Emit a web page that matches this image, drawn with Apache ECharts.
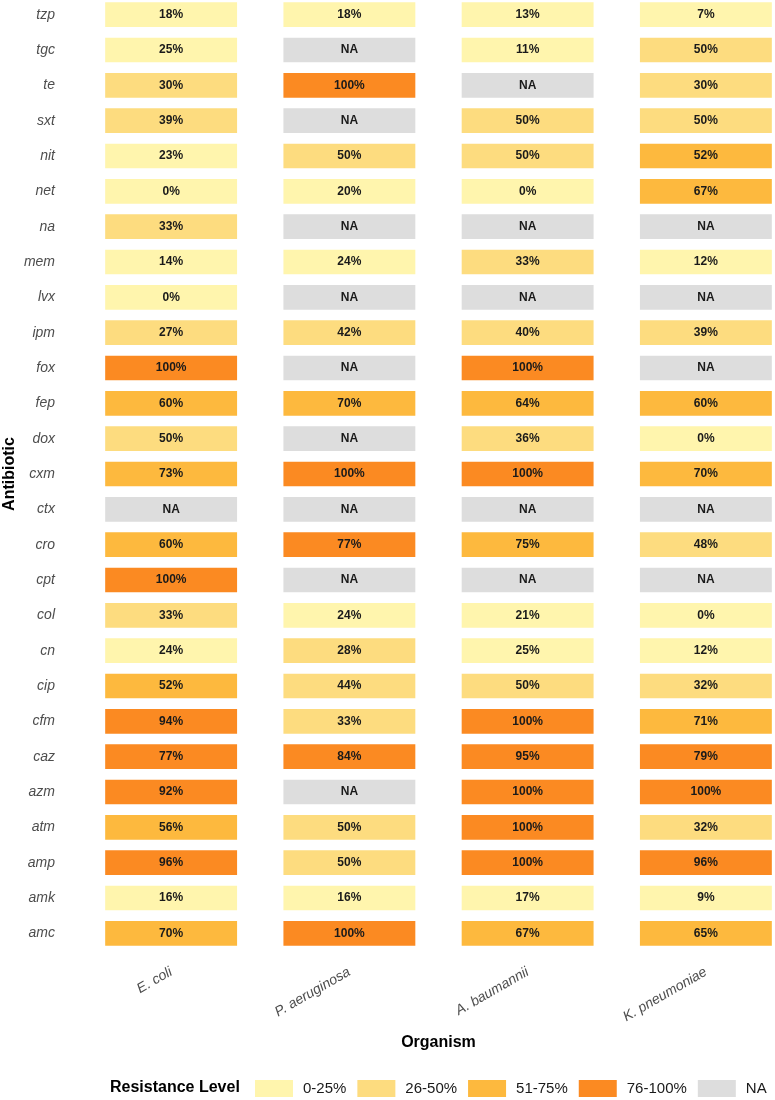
<!DOCTYPE html>
<html>
<head>
<meta charset="utf-8">
<title>Resistance heatmap</title>
<script src="https://cdn.jsdelivr.net/npm/echarts@6/dist/echarts.min.js"></script>
<style>
  html, body { margin: 0; padding: 0; background: #fff; }
  #main { width: 775px; height: 1100px; }
</style>
</head>
<body>
<div id="main"></div>
<script>
// organisms (x axis) and antibiotics (y axis, bottom to top)
var organisms = ['E. coli', 'P. aeruginosa', 'A. baumannii', 'K. pneumoniae'];
var antibiotics = ['amc', 'amk', 'amp', 'atm', 'azm', 'caz', 'cfm', 'cip', 'cn', 'col',
  'cpt', 'cro', 'ctx', 'cxm', 'dox', 'fep', 'fox', 'ipm', 'lvx', 'mem',
  'na', 'net', 'nit', 'sxt', 'te', 'tgc', 'tzp'];

// resistance % per organism, same order as antibiotics; null = NA
var ecoli = [70, 16, 96, 56, 92, 77, 94, 52, 24, 33,
  100, 60, null, 73, 50, 60, 100, 27, 0, 14,
  33, 0, 23, 39, 30, 25, 18];
var paeruginosa = [100, 16, 50, 50, null, 84, 33, 44, 28, 24,
  null, 77, null, 100, null, 70, null, 42, null, 24,
  null, 20, 50, null, 100, null, 18];
var abaumannii = [67, 17, 100, 100, 100, 95, 100, 50, 25, 21,
  null, 75, null, 100, 36, 64, 100, 40, null, 33,
  null, 0, 50, 50, null, 11, 13];
var kpneumoniae = [65, 9, 96, 32, 100, 79, 71, 32, 12, 0,
  null, 48, null, 70, 0, 60, null, 39, null, 12,
  null, 67, 52, 50, 30, 50, 7];

var levelLabels = ['0-25%', '26-50%', '51-75%', '76-100%', 'NA'];
var levelColors = ['#fff5ad', '#fddc7f', '#fdb93e', '#fb8a22', '#dddddd'];

// NA cells get a code above 100 so the legend lists NA last
var NA_CODE = 999;

var columns = [ecoli, paeruginosa, abaumannii, kpneumoniae];
var cells = [];
columns.forEach(function (col, i) {
  col.forEach(function (v, j) {
    cells.push([i, j, v === null ? NA_CODE : v]);
  });
});

var FONT = 'Liberation Sans, Arial, sans-serif';
var myChart = echarts.init(document.getElementById('main'));

var option = {
  backgroundColor: '#ffffff',
  title: {
    text: 'Resistance Level',
    left: 110,
    top: 1080,
    padding: 0,
    textStyle: { fontFamily: FONT, fontSize: 16, fontWeight: 'bold', color: '#000' }
  },
  grid: { left: 82, top: -3, width: 713, height: 954, outerBoundsMode: 'none' },
  xAxis: {
    type: 'category',
    data: organisms,
    name: 'Organism',
    nameLocation: 'middle',
    nameGap: 84,
    nameMoveOverlap: false,
    nameTextStyle: { fontFamily: FONT, fontSize: 16, fontWeight: 'bold', color: '#000' },
    axisLine: { show: false },
    axisTick: { show: false },
    splitLine: { show: false },
    axisLabel: {
      rotate: 30,
      margin: 20,
      fontFamily: FONT,
      fontSize: 14,
      fontStyle: 'italic',
      color: '#4d4d4d'
    }
  },
  yAxis: {
    type: 'category',
    data: antibiotics,
    name: 'Antibiotic',
    nameLocation: 'middle',
    nameGap: 64,
    nameMoveOverlap: false,
    nameTextStyle: { fontFamily: FONT, fontSize: 16, fontWeight: 'bold', color: '#000' },
    axisLine: { show: false },
    axisTick: { show: false },
    splitLine: { show: false },
    axisLabel: {
      margin: 27,
      fontFamily: FONT,
      fontSize: 14,
      fontStyle: 'italic',
      color: '#4d4d4d'
    }
  },
  visualMap: {
    type: 'piecewise',
    orient: 'horizontal',
    dimension: 2,
    seriesIndex: 0,
    left: 255,
    top: 1080,
    padding: 0,
    itemWidth: 38,
    itemHeight: 17,
    itemGap: 11,
    textGap: 10,
    itemSymbol: 'rect',
    selectedMode: false,
    textStyle: { fontFamily: FONT, fontSize: 15, color: '#1a1a1a' },
    pieces: [
      { min: 0, max: 25, label: levelLabels[0], color: levelColors[0] },
      { min: 25.5, max: 50, label: levelLabels[1], color: levelColors[1] },
      { min: 50.5, max: 75, label: levelLabels[2], color: levelColors[2] },
      { min: 75.5, max: 100, label: levelLabels[3], color: levelColors[3] },
      { value: NA_CODE, label: levelLabels[4], color: levelColors[4] }
    ]
  },
  series: [{
    type: 'custom',
    data: cells,
    encode: { x: 0, y: 1 },
    renderItem: function (params, api) {
      var c = api.coord([api.value(0), api.value(1)]);
      var s = api.size([1, 1]);
      var w = s[0] * 0.74, h = s[1] * 0.7;
      var v = api.value(2);
      return {
        type: 'group',
        children: [{
          type: 'rect',
          shape: { x: c[0] - w / 2, y: c[1] - h / 2, width: w, height: h },
          style: { fill: api.visual('color') }
        }, {
          type: 'text',
          style: {
            text: v === NA_CODE ? 'NA' : v + '%',
            x: c[0], y: c[1],
            align: 'center', verticalAlign: 'middle',
            font: 'bold 12px ' + FONT,
            fill: '#1a1a1a'
          }
        }]
      };
    }
  }]
};

myChart.setOption(option);
</script>
</body>
</html>
